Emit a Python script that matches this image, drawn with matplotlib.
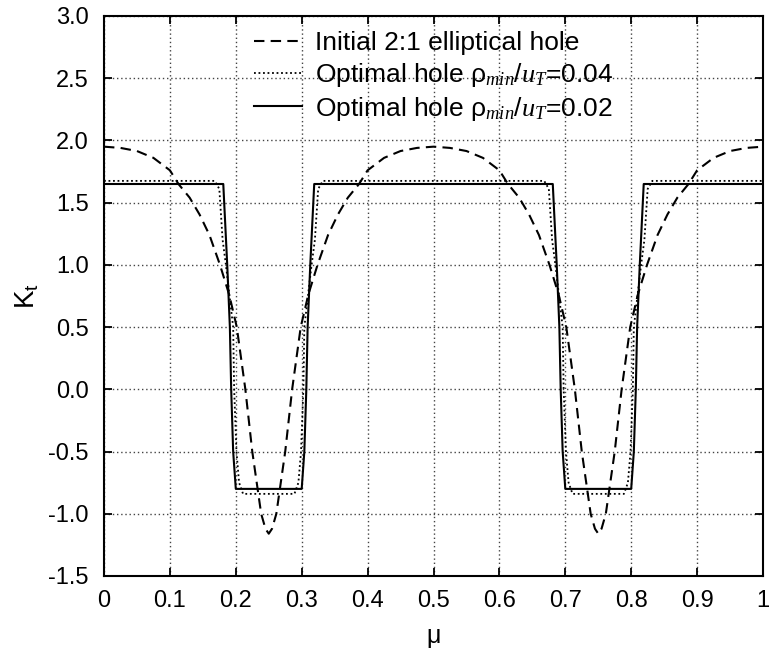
import matplotlib
matplotlib.use("Agg")
import matplotlib.pyplot as plt

plt.rcParams['font.family'] = ['Liberation Sans', 'DejaVu Sans']
plt.rcParams['mathtext.fontset'] = 'custom'
plt.rcParams['mathtext.rm'] = 'Liberation Sans'
plt.rcParams['mathtext.it'] = 'Liberation Serif:italic'
plt.rcParams['axes.unicode_minus'] = False

# ---- data ----
mu_initial = [0.000, 0.025, 0.050, 0.075, 0.100, 0.113, 0.130, 0.145, 0.160, 0.176, 0.190,
              0.2015, 0.2145, 0.225, 0.2385, 0.245, 0.250, 0.255, 0.2615, 0.275, 0.2855,
              0.2985, 0.310, 0.324, 0.340, 0.355, 0.370, 0.387, 0.400, 0.425, 0.450, 0.475,
              0.500, 0.525, 0.550, 0.575, 0.600, 0.613, 0.630, 0.645, 0.660, 0.676, 0.690,
              0.7015, 0.7145, 0.725, 0.7385, 0.745, 0.750, 0.755, 0.7615, 0.775, 0.7855,
              0.7985, 0.810, 0.824, 0.840, 0.855, 0.870, 0.887, 0.900, 0.925, 0.950, 0.975, 1.000]
kt_initial = [1.950, 1.940, 1.915, 1.860, 1.760, 1.650, 1.540, 1.405, 1.240, 1.000, 0.760,
              0.500, 0.000, -0.500, -1.000, -1.120, -1.160, -1.120, -1.000, -0.500, 0.000,
              0.500, 0.760, 1.000, 1.240, 1.405, 1.540, 1.650, 1.760, 1.860, 1.915, 1.940,
              1.950, 1.940, 1.915, 1.860, 1.760, 1.650, 1.540, 1.405, 1.240, 1.000, 0.760,
              0.500, 0.000, -0.500, -1.000, -1.120, -1.160, -1.120, -1.000, -0.500, 0.000,
              0.500, 0.760, 1.000, 1.240, 1.405, 1.540, 1.650, 1.760, 1.860, 1.915, 1.940, 1.950]

mu_opt04 = [0.000, 0.168, 0.175, 0.180, 0.185, 0.196, 0.1975, 0.201, 0.205, 0.211,
            0.289, 0.295, 0.299, 0.3025, 0.304, 0.315, 0.320, 0.325, 0.332,
            0.668, 0.675, 0.680, 0.685, 0.696, 0.6975, 0.701, 0.705, 0.711,
            0.789, 0.795, 0.799, 0.8025, 0.804, 0.815, 0.820, 0.825, 0.832, 1.000]
kt_opt04 = [1.675, 1.675, 1.610, 1.200, 1.000, 0.500, 0.000, -0.500, -0.750, -0.840,
            -0.840, -0.750, -0.500, 0.000, 0.500, 1.000, 1.200, 1.610, 1.675,
            1.675, 1.610, 1.200, 1.000, 0.500, 0.000, -0.500, -0.750, -0.840,
            -0.840, -0.750, -0.500, 0.000, 0.500, 1.000, 1.200, 1.610, 1.675, 1.675]

mu_opt02 = [0.000, 0.181, 0.187, 0.191, 0.193, 0.196, 0.200,
            0.300, 0.304, 0.307, 0.309, 0.313, 0.319,
            0.681, 0.687, 0.691, 0.693, 0.696, 0.700,
            0.800, 0.804, 0.807, 0.809, 0.813, 0.819, 1.000]
kt_opt02 = [1.650, 1.650, 1.000, 0.500, 0.000, -0.500, -0.800,
            -0.800, -0.500, 0.000, 0.500, 1.000, 1.650,
            1.650, 1.000, 0.500, 0.000, -0.500, -0.800,
            -0.800, -0.500, 0.000, 0.500, 1.000, 1.650, 1.650]

x_ticks = [0, 0.1, 0.2, 0.3, 0.4, 0.5, 0.6, 0.7, 0.8, 0.9, 1.0]
x_tick_labels = ['0', '0.1', '0.2', '0.3', '0.4', '0.5', '0.6', '0.7', '0.8', '0.9', '1']
y_ticks = [-1.5, -1.0, -0.5, 0.0, 0.5, 1.0, 1.5, 2.0, 2.5, 3.0]
y_tick_labels = ['-1.5', '-1.0', '-0.5', '0.0', '0.5', '1.0', '1.5', '2.0', '2.5', '3.0']

labels = ['Initial 2:1 elliptical hole',
          r'Optimal hole $\mathrm{\rho}_{min}/u_T$=0.04',
          r'Optimal hole $\mathrm{\rho}_{min}/u_T$=0.02']

# ---- figure ----
fig = plt.figure(figsize=(7.69, 6.55), dpi=100)
ax = fig.add_axes([104/769, 1-576/655, 659/769, 560/655])

ax.plot(mu_initial, kt_initial, color='black', lw=1.5, linestyle=(0, (5, 3)), label=labels[0])
ax.plot(mu_opt04, kt_opt04, color='black', lw=1.3, linestyle=(0, (1, 1.5)), label=labels[1])
ax.plot(mu_opt02, kt_opt02, color='black', lw=1.5, linestyle='-', label=labels[2])

ax.set_xlim(0, 1)
ax.set_ylim(-1.5, 3.0)
ax.set_xticks(x_ticks)
ax.set_xticklabels(x_tick_labels)
ax.set_yticks(y_ticks)
ax.set_yticklabels(y_tick_labels)
ax.tick_params(direction='in', length=6, width=1.3, top=True, right=True,
               labelsize=17)
ax.tick_params(axis='x', pad=10)
ax.tick_params(axis='y', pad=11)
ax.grid(True, color='#444444', linestyle=(0, (1, 2)), linewidth=1.0)
for s in ax.spines.values():
    s.set_linewidth(1.5)

ax.set_xlabel(r'$\mathrm{\mu}$', fontsize=18, labelpad=10)
ax.set_ylabel(r'$\mathrm{K_t}$', fontsize=20, labelpad=5)

leg = ax.legend(loc='upper left', bbox_to_anchor=(0.228, 0.973), frameon=False,
                fontsize=19, handlelength=1.8, handletextpad=0.5, labelspacing=0.22,
                borderpad=0, borderaxespad=0)

fig.savefig('out.png', dpi=100)
